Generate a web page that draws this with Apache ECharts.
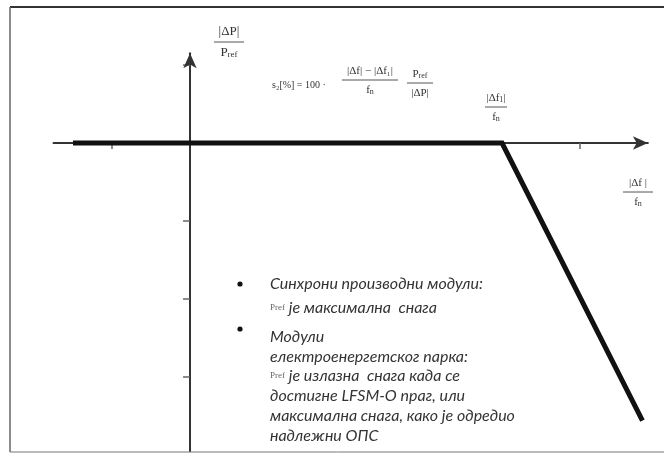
<!DOCTYPE html>
<html>
<head>
<meta charset="utf-8">
<script src="https://cdn.jsdelivr.net/npm/echarts@6/dist/echarts.min.js"></script>
<style>html,body{margin:0;padding:0;background:#fff}#c{width:664px;height:459px}</style>
</head>
<body>
<div id="c"></div>
<script>
// ---- data ----
const curveX = [-1.5, 4, 5.8];
const curveY = [0, 0, -3.56];
const xTickValues = [-1, 5];
const yTickValues = [1, -1, -2, -3];
const bulletLines1 = ['Синхрони производни модули:'];
const bulletLines2 = ['Модули', 'електроенергетског парка:'];
const bulletTail2 = ['достигне LFSM-O праг, или', 'максимална снага, како је одредио', 'надлежни ОПС'];

const chart = echarts.init(document.getElementById('c'));
const serif = 'Liberation Serif';
const sans = 'Lato';
const mathColor = '#333';

function mathStyle(text, size) {
  return {text:text, font:size+'px "'+serif+'"', fill:mathColor, align:'center', verticalAlign:'middle',
    rich:{s:{fontSize:Math.round(size*0.7), fontFamily:serif, fill:mathColor, verticalAlign:'bottom'}}};
}
function frac(cx, lineY, num, den, w, size, gap) {
  size = size || 11; gap = gap || 9;
  return [
    {type:'text', x:cx, y:lineY-gap, style:mathStyle(num, size)},
    {type:'line', shape:{x1:cx-w/2, y1:lineY, x2:cx+w/2, y2:lineY}, style:{stroke:'#555', lineWidth:1}},
    {type:'text', x:cx, y:lineY+gap+1, style:mathStyle(den, size)}
  ];
}

const graphics = [
  {type:'line', shape:{x1:10, y1:7, x2:700, y2:7}, style:{stroke:'#333', lineWidth:2}, z:-1},
  {type:'line', shape:{x1:10, y1:7, x2:10, y2:452}, style:{stroke:'#666', lineWidth:1.5}, z:-1},
  {type:'line', shape:{x1:10, y1:452, x2:700, y2:452}, style:{stroke:'#777', lineWidth:1}, z:-1},
  ...frac(229, 42, '|ΔP|', 'P{s|ref}', 30, 13, 10),
  {type:'text', x:272, y:85, style:{text:'s₂[%] = 100 ·', font:'10px "'+serif+'"', fill:mathColor, align:'left', verticalAlign:'middle'}},
  ...frac(370, 80, '|Δf| − |Δf₁|', 'f{s|n}', 56, 11),
  ...frac(420, 83, 'P{s|ref}', '|ΔP|', 26, 11),
  ...frac(496, 107, '|Δf{s|1}|', 'f{s|n}', 22, 11),
  ...frac(638, 192, '|Δf |', 'f{s|n}', 30, 11),
];
// bullets
const tx = 270, bx = 240;
graphics.push({type:'circle', shape:{cx:bx, cy:284, r:2.6}, style:{fill:'#111'}});
graphics.push({type:'circle', shape:{cx:bx, cy:329, r:2.6}, style:{fill:'#111'}});
const bodyFont = 'italic 16px "'+sans+'"';
const richRef = {p:{fontFamily:serif, fontStyle:'normal', fontSize:9, fill:'#666'}};
function line(y, text) {
  graphics.push({type:'text', x:tx, y:y, style:{text:text, font:bodyFont, fill:'#333', align:'left', verticalAlign:'middle', rich:richRef}});
}
line(284, bulletLines1[0]);
line(308, '{p|Pref} је максимална  снага');
line(337, bulletLines2[0]);
line(357, bulletLines2[1]);
line(376, '{p|Pref} је излазна  снага када се');
line(396, bulletTail2[0]);
line(416, bulletTail2[1]);
line(436, bulletTail2[2]);

chart.setOption({
  animation:false,
  backgroundColor:'#fff',
  grid:{left:53.5, right:16.1, top:53.3, bottom:7.9, containLabel:false},
  xAxis:{type:'value', min:-1.75, max:5.87, position:'bottom',
    axisLine:{onZero:true, symbol:['none','arrow'], symbolSize:[10,15], lineStyle:{color:'#333', width:2}},
    axisTick:{show:true, customValues:xTickValues, length:6, inside:false, lineStyle:{color:'#666', width:1.5}},
    axisLabel:{show:false}, splitLine:{show:false}},
  yAxis:{type:'value', min:-3.95, max:1.15, position:'left',
    axisLine:{onZero:true, symbol:['none','arrow'], symbolSize:[10,15], lineStyle:{color:'#333', width:2}},
    axisTick:{show:true, customValues:yTickValues, length:7, inside:false, lineStyle:{color:'#666', width:1.5}},
    axisLabel:{show:false}, splitLine:{show:false}},
  series:[{type:'line', data:curveX.map((x,i)=>[x, curveY[i]]), showSymbol:false, symbol:'none',
    lineStyle:{color:'#111', width:5, cap:'butt', join:'miter'}, z:5}],
  graphic:graphics
});
</script>
</body>
</html>
